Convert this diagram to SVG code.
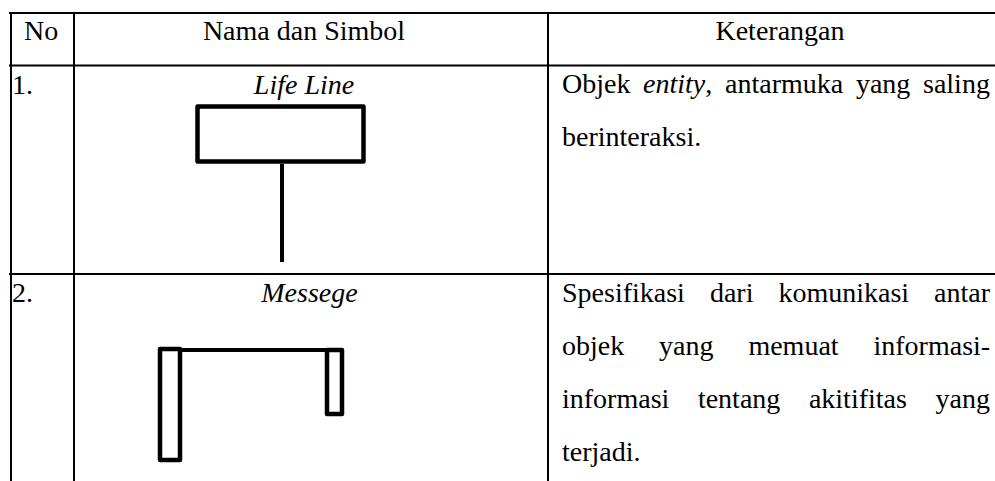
<svg xmlns="http://www.w3.org/2000/svg" width="995" height="481" viewBox="0 0 995 481">
<style>
text{font-family:"Liberation Serif","Times New Roman",serif;font-size:28px;fill:#000}
.it{font-style:italic}
.mid{text-anchor:middle}
.grid{stroke:#000;stroke-width:2;fill:none}
.sym{stroke:#000;stroke-width:4.5;fill:none;stroke-linejoin:round}
</style>
<rect width="995" height="481" fill="#fff"/>
<g id="table-grid" class="grid">
<line x1="9" y1="13" x2="995" y2="13"/>
<line x1="9" y1="65.5" x2="995" y2="65.5"/>
<line x1="9" y1="274" x2="995" y2="274"/>
<line x1="11" y1="12" x2="11" y2="481"/>
<line x1="74" y1="12" x2="74" y2="481"/>
<line x1="548" y1="12" x2="548" y2="481"/>
</g>
<g id="header">
<text x="24" y="40">No</text>
<text class="mid" x="304" y="40">Nama dan Simbol</text>
<text class="mid" x="780" y="40">Keterangan</text>
</g>
<g id="row1">
<text x="12" y="94">1.</text>
<text class="it mid" x="304" y="94">Life Line</text>
<g id="lifeline-symbol">
<rect class="sym" x="197.5" y="106.5" width="166" height="55"/>
<line x1="282" y1="164" x2="282" y2="262" stroke="#000" stroke-width="4"/>
</g>
<text x="562" y="93">Objek</text>
<text x="643.1" y="93"><tspan class="it">entity</tspan>,</text>
<text x="725" y="93">antarmuka</text>
<text x="855.9" y="93">yang</text>
<text x="923" y="93">saling</text>
<text x="562" y="146">berinteraksi.</text>
</g>
<g id="row2">
<text x="12" y="302">2.</text>
<text class="it mid" x="309.5" y="302">Messege</text>
<g id="message-symbol">
<rect class="sym" x="160" y="349" width="20" height="111"/>
<rect class="sym" x="327" y="350" width="15" height="64"/>
<line x1="180" y1="350" x2="327" y2="350" stroke="#000" stroke-width="4"/>
</g>
<text x="562" y="302">Spesifikasi</text>
<text x="709.9" y="302">dari</text>
<text x="778.4" y="302">komunikasi</text>
<text x="934.1" y="302">antar</text>
<text x="562" y="355">objek</text>
<text x="659.1" y="355">yang</text>
<text x="748.4" y="355">memuat</text>
<text x="873.5" y="355">informasi-</text>
<text x="562" y="408">informasi</text>
<text x="697.9" y="408">tentang</text>
<text x="808.9" y="408">akitifitas</text>
<text x="935.5" y="408">yang</text>
<text x="562" y="461">terjadi.</text>
</g>
</svg>
